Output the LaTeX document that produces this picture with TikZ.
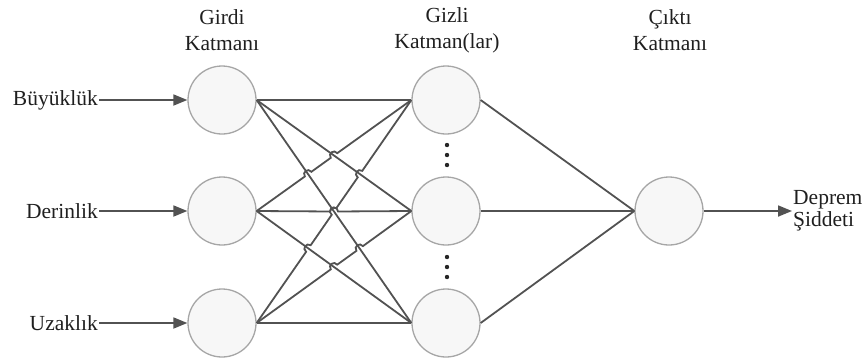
\documentclass[tikz,border=0pt]{standalone}
\usepackage{fontspec}
\setmainfont{Liberation Serif}
\newfontfamily\labelfont{Liberation Serif}
\usetikzlibrary{arrows.meta,calc}

\begin{document}
\begin{tikzpicture}[x=1pt,y=-1pt,
    neuron/.style={circle,draw=gray!70,fill=gray!6,line width=1.3pt,minimum size=68pt,inner sep=0pt},
    conn/.style={draw=black!68,line width=1.8pt},
    feed/.style={conn,-{Triangle[length=14pt,width=11pt]}},
    hop/.style={bend left=90,looseness=1.7},
    txt/.style={text=black!88,font=\labelfont\fontsize{21.5}{26}\selectfont,inner sep=1pt}]
        \useasboundingbox (0,0) rectangle (867,360);

        % layers
        \node[neuron] (i1) at (222,100) {};
        \node[neuron] (i2) at (222,211) {};
        \node[neuron] (i3) at (222,323) {};
        \node[neuron] (h1) at (446,100) {};
        \node[neuron] (h2) at (446,211) {};
        \node[neuron] (h3) at (446,323) {};
        \node[neuron] (o)  at (669,211) {};

        % titles
        \node[txt,align=center] (tin)  at (222,30) {Girdi\\Katmanı};
        \node[txt,align=center] (thid) at (447,30) {Gizli\\Katman(lar)};
        \node[txt,align=center] (tout) at (670,30) {Çıktı\\Katmanı};

        % inputs and output
        \node[txt,anchor=east] (l1) at (99,100) {Büyüklük};
        \node[txt,anchor=east] (l2) at (99,211) {Derinlik};
        \node[txt,anchor=east] (l3) at (99,323) {Uzaklık};
        \node[txt,anchor=west,align=left,font=\labelfont\fontsize{21.5}{22}\selectfont] (lo) at (792,211) {Deprem\\Şiddeti};

        \draw[feed] (l1) -- (i1);
        \draw[feed] (l2) -- (i2);
        \draw[feed] (l3) -- (i3);
        \draw[feed] (o) -- (lo);

        % crossings
        \coordinate (c1) at (intersection of i1.east--h2.west and i2.east--h1.west);
        \coordinate (c2) at (intersection of i1.east--h3.west and i2.east--h1.west);
        \coordinate (c3) at (intersection of i1.east--h3.west and i3.east--h1.west);
        \coordinate (c4) at (intersection of i1.east--h2.west and i3.east--h1.west);
        \coordinate (c5) at (intersection of i2.east--h3.west and i3.east--h1.west);
        \coordinate (c6) at (intersection of i2.east--h3.west and i3.east--h2.west);
        \coordinate (c7) at (intersection of i1.east--h3.west and i3.east--h2.west);

        % input -> hidden
        \draw[conn] (i1.east) -- (h1.west);
        \draw[conn] (i1.east) -- (h2.west);
        \draw[conn] (i1.east) -- (h3.west);
        \draw[conn] (i2.east) -- ($(c2)!4pt!(i2.east)$) to[hop] ($(c2)!4pt!(h1.west)$)
            -- ($(c1)!4pt!(i2.east)$) to[hop] ($(c1)!4pt!(h1.west)$) -- (h1.west);
        \draw[conn] (i2.east) -- ($(c3)!4pt!(i2.east)$) to[hop] ($(c3)!4pt!(h2.west)$) -- (h2.west);
        \draw[conn] (i2.east) -- (h3.west);
        \draw[conn] (i3.east) -- ($(c5)!4pt!(i3.east)$) to[hop] ($(c5)!4pt!(h1.west)$)
            -- ($(c3)!4pt!(i3.east)$) to[hop] ($(c3)!4pt!(h1.west)$)
            -- ($(c4)!4pt!(i3.east)$) to[hop] ($(c4)!4pt!(h1.west)$) -- (h1.west);
        \draw[conn] (i3.east) -- ($(c6)!4pt!(i3.east)$) to[hop] ($(c6)!4pt!(h2.west)$)
            -- ($(c7)!4pt!(i3.east)$) to[hop] ($(c7)!4pt!(h2.west)$) -- (h2.west);
        \draw[conn] (i3.east) -- (h3.west);

        % hidden -> output
        \foreach \h in {h1,h2,h3}
            \draw[conn] (\h.east) -- (o.west);

        % dots between hidden units
        \foreach \y in {145,155,165,257,267,277}
            \fill[black!85] (447,\y) circle (2.2pt);
    \end{tikzpicture}
\end{document}
